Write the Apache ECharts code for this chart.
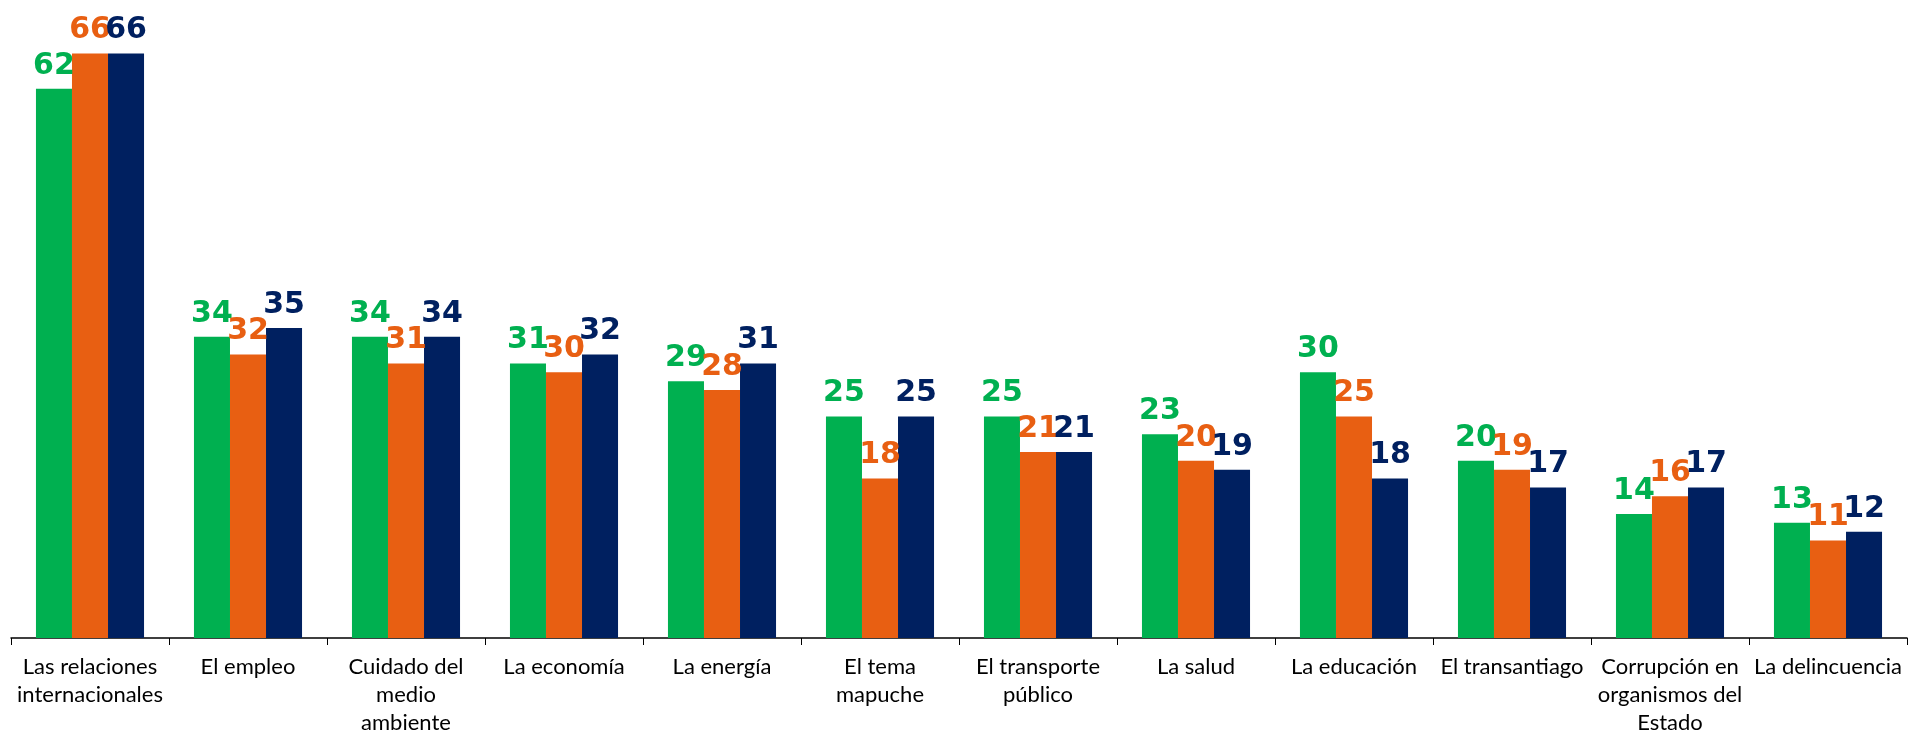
<!DOCTYPE html>
<html><head><meta charset="utf-8">
<script src="https://cdn.jsdelivr.net/npm/echarts@6/dist/echarts.min.js"></script>
<style>html,body{margin:0;padding:0;background:#fff}#c{width:1909px;height:738px}</style>
</head><body><div id="c"></div>
<script>
const categories = ["Las relaciones\ninternacionales","El empleo","Cuidado del\nmedio\nambiente","La economía","La energía","El tema\nmapuche","El transporte\npúblico","La salud","La educación","El transantiago","Corrupción en\norganismos del\nEstado","La delincuencia"];
const seriesA = [62,34,34,31,29,25,25,23,30,20,14,13];
const seriesB = [66,32,31,30,28,18,21,20,25,19,16,11];
const seriesC = [66,35,34,32,31,25,21,19,18,17,17,12];
const colors = ["#00B050","#E85F12","#002060"];
const chart = echarts.init(document.getElementById('c'));
function s(name, data, color){
  return {name, type:'bar', data, barGap:'0%', barCategoryGap:'31.6%',
    itemStyle:{color},
    label:{show:true, position:'top', distance:8, color, fontFamily:'DejaVu Sans', fontWeight:'bold', fontSize:30}};
}
chart.setOption({
  animation:false,
  grid:{left:11, right:2, top:18, bottom:100},
  xAxis:{type:'category', data:categories,
    axisLine:{lineStyle:{color:'#000', width:1.5}},
    axisTick:{show:true, length:7, lineStyle:{color:'#000'}},
    axisLabel:{interval:0, color:'#000', fontFamily:'Lato', fontSize:22, lineHeight:28, margin:15}},
  yAxis:{type:'value', min:0, max:70, show:false, splitLine:{show:false}},
  series:[s('A',seriesA,colors[0]), s('B',seriesB,colors[1]), s('C',seriesC,colors[2])]
});
</script></body></html>
